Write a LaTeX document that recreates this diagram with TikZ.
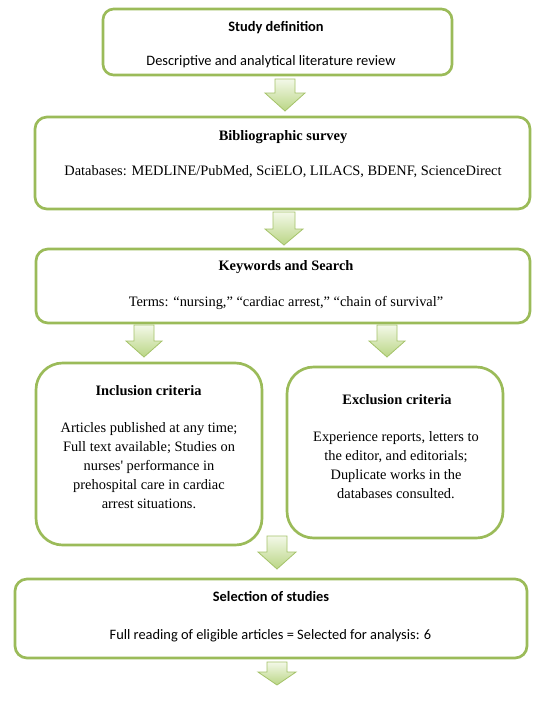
\documentclass[tikz,border=0pt]{standalone}
\usepackage{fontspec}
\setmainfont{Liberation Serif}
\newfontfamily\calibrifont{Carlito}
\definecolor{boxgreen}{HTML}{9BBB59}
\definecolor{arrowtop}{HTML}{F3F8E8}
\definecolor{arrowbot}{HTML}{BAD685}
\definecolor{arrowline}{HTML}{A5C36A}
\newcommand\flowarrow[6]{%
  \shade[flowarrowstyle]
    ({#1-#5},#2) -- ({#1+#5},#2) -- ({#1+#5},#3) -- ({#1+#6},#3) --
    (#1,#4) -- ({#1-#6},#3) -- ({#1-#5},#3) -- cycle;}
\begin{document}
\begin{tikzpicture}[x=0.75pt,y=-0.75pt,
  box/.style={draw=boxgreen, line width=2pt, rounded corners=#1, fill=white, inner sep=0pt},
  flowarrowstyle/.style={top color=arrowtop, bottom color=arrowbot, draw=arrowline, line width=0.6pt, line join=miter},
  serif/.style={font=\fontsize{10.8}{14.25}\selectfont, inner sep=0pt},
  seriftitle/.style={font=\fontsize{10.8}{13}\selectfont\bfseries, inner sep=0pt},
  sans/.style={font=\calibrifont\fontsize{10.8}{13}\selectfont, inner sep=0pt},
  sanstitle/.style={font=\calibrifont\fontsize{10.8}{13}\selectfont\bfseries, inner sep=0pt}]
\useasboundingbox (0,0) rectangle (551,704);
\fill[white] (0,0) rectangle (551,704);

% boxes
\node[box=8pt, minimum width=261.75pt, minimum height=49.5pt] (b1) at (277.5,42) {};
\node[box=9pt, minimum width=371.25pt, minimum height=69pt] (b2) at (282.5,163) {};
\node[box=9pt, minimum width=370.5pt, minimum height=55.5pt] (b3) at (283,286) {};
\node[box=20pt, minimum width=169.5pt, minimum height=136.5pt] (b4) at (149,454) {};
\node[box=20pt, minimum width=162pt, minimum height=128.25pt] (b5) at (395,452.5) {};
\node[box=9pt, minimum width=384pt, minimum height=59.25pt] (b6) at (271,618.5) {};

% block arrows
\flowarrow{285}{79}{93}{111}{10}{20}
\flowarrow{284}{212}{229}{245}{11}{19}
\flowarrow{144}{325}{341}{357}{10}{18}
\flowarrow{387}{325}{341}{357}{10}{18}
\flowarrow{277}{536}{552}{569}{10}{19}
\flowarrow{277}{662}{672}{685}{10}{19}

% texts
\node[sanstitle, anchor=base] (t1) at (276,31) {Study definition};
\node[sans, anchor=base] (d1) at (271,65) {Descriptive and analytical literature review};

\node[seriftitle, anchor=base] (t2) at (283,140) {Bibliographic survey};
\node[serif, anchor=base] (d2) at (283,175) {Databases: MEDLINE/PubMed, SciELO, LILACS, BDENF, ScienceDirect};

\node[seriftitle, anchor=base] (t3) at (286,270) {Keywords and Search};
\node[serif, anchor=base] (d3) at (286,306) {Terms: “nursing,” “cardiac arrest,” “chain of survival”};

\node[seriftitle, anchor=base] (t4) at (148.5,395) {Inclusion criteria};
\node[serif, align=center] (d4) at (149,466) {Articles published at any time;\\Full text available; Studies on\\nurses\textquotesingle{} performance in\\prehospital care in cardiac\\arrest situations.};

\node[seriftitle, anchor=base] (t5) at (397,404) {Exclusion criteria};
\node[serif, align=center] (d5) at (396,465.5) {Experience reports, letters to\\the editor, and editorials;\\Duplicate works in the\\databases consulted.};

\node[sanstitle, anchor=base] (t6) at (271,601) {Selection of studies};
\node[sans, anchor=base] (d6) at (270.5,639) {Full reading of eligible articles = Selected for analysis: 6};
\end{tikzpicture}
\end{document}
